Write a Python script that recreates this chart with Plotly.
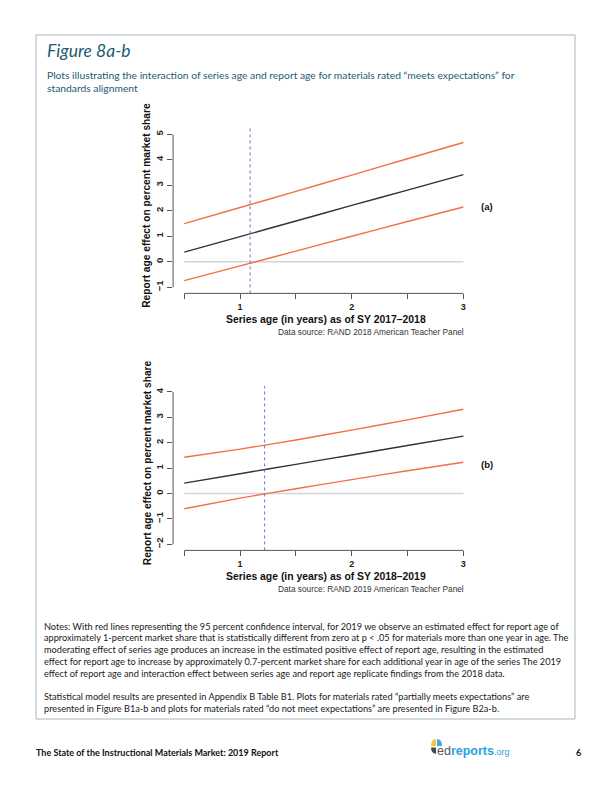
import plotly.graph_objects as go

W, H = 612, 792

# ---------------- data ----------------
series_age = [0.5, 1.0, 1.5, 2.0, 2.5, 3.0]

a_effect = [0.38, 0.99, 1.60, 2.21, 2.81, 3.42]
a_upper = [1.50, 2.13, 2.76, 3.40, 4.04, 4.68]
a_lower = [-0.74, -0.16, 0.42, 1.00, 1.58, 2.15]
a_cross = 1.09

b_effect = [0.41, 0.78, 1.15, 1.52, 1.89, 2.26]
b_upper = [1.43, 1.75, 2.11, 2.50, 2.90, 3.32]
b_lower = [-0.60, -0.18, 0.19, 0.55, 0.90, 1.23]
b_cross = 1.22

x_tickvals = [0.5, 1.0, 1.5, 2.0, 2.5, 3.0]
x_ticktext = ["", "1", "", "2", "", "3"]
a_yticks = [-1, 0, 1, 2, 3, 4, 5]
b_yticks = [-2, -1, 0, 1, 2, 3, 4]

a_xtitle = "Series age (in years) as of SY 2017–2018"
b_xtitle = "Series age (in years) as of SY 2018–2019"
ytitle = "Report age effect on percent market share"
a_source = "Data source: RAND 2018 American Teacher Panel"
b_source = "Data source: RAND 2019 American Teacher Panel"

title = "Figure 8a-b"
subtitle = ["Plots illustrating the interaction of series age and report age for materials rated “meets expectations” for",
            "standards alignment"]
notes = [
    "Notes: With red lines representing the 95 percent confidence interval, for 2019 we observe an estimated effect for report age of",
    "approximately 1-percent market share that is statistically different from zero at p < .05 for materials more than one year in age. The",
    "moderating effect of series age produces an increase in the estimated positive effect of report age, resulting in the estimated",
    "effect for report age to increase by approximately 0.7-percent market share for each additional year in age of the series The 2019",
    "effect of report age and interaction effect between series age and report age replicate findings from the 2018 data.",
    "",
    "Statistical model results are presented in Appendix B Table B1. Plots for materials rated “partially meets expectations” are",
    "presented in Figure B1a-b and plots for materials rated “do not meet expectations” are presented in Figure B2a-b.",
]
footer = "The State of the Instructional Materials Market: 2019 Report"
page_no = "6"

# ---------------- helpers ----------------
def px(x):
    return x / W

def py(y):
    return 1 - y / H

RED = "#f36f45"
BLACK = "#333333"
ZERO = "#d4d4d4"
BLUE = "#6f72cf"
AXIS = "#555555"
TEAL = "#1d5a73"
BODY_FONT = "Lato"
R_FONT = "Liberation Sans"

fig = go.Figure()

panels = [
    dict(xa="x", ya="y", eff=a_effect, up=a_upper, lo=a_lower, cross=a_cross,
         yticks=a_yticks, ydom=(128.2, 293.4), xtitle=a_xtitle, source=a_source, tag="(a)"),
    dict(xa="x2", ya="y2", eff=b_effect, up=b_upper, lo=b_lower, cross=b_cross,
         yticks=b_yticks, ydom=(385.9, 550.4), xtitle=b_xtitle, source=b_source, tag="(b)"),
]

XDOM = (173.1, 474.5)

for i, p in enumerate(panels):
    xa, ya = p["xa"], p["ya"]
    # zero reference line
    fig.add_trace(go.Scatter(x=[series_age[0], series_age[-1]], y=[0, 0], mode="lines",
                             line=dict(color=ZERO, width=1.6), xaxis=xa, yaxis=ya,
                             showlegend=False, hoverinfo="skip"))
    for ys, col in [(p["up"], RED), (p["lo"], RED), (p["eff"], BLACK)]:
        fig.add_trace(go.Scatter(x=series_age, y=ys, mode="lines",
                                 line=dict(color=col, width=1.4, shape="spline", smoothing=0.6),
                                 xaxis=xa, yaxis=ya, showlegend=False))
    xref_dom = xa + " domain"
    yref_dom = ya + " domain"
    # vertical dashed line at zero crossing of lower CI
    fig.add_shape(type="line", xref=xa, yref=yref_dom, x0=p["cross"], x1=p["cross"], y0=0, y1=1,
                  line=dict(color=BLUE, width=1, dash="dot"))
    # R-style detached axis lines
    fig.add_shape(type="line", xref=xa, yref=yref_dom, x0=x_tickvals[0], x1=x_tickvals[-1], y0=0, y1=0,
                  line=dict(color=AXIS, width=1))
    fig.add_shape(type="line", xref=xref_dom, yref=ya, x0=0, x1=0, y0=p["yticks"][0], y1=p["yticks"][-1],
                  line=dict(color=AXIS, width=1))
    ymin, ymax = p["yticks"][0], p["yticks"][-1]
    pad = (ymax - ymin) * 0.04
    xpad = (x_tickvals[-1] - x_tickvals[0]) * 0.04
    suffix = "" if i == 0 else "2"
    fig.update_layout(**{
        "xaxis" + suffix: dict(domain=[px(XDOM[0]), px(XDOM[1])],
                               range=[x_tickvals[0] - xpad, x_tickvals[-1] + xpad],
                               tickmode="array", tickvals=x_tickvals, ticktext=x_ticktext,
                               ticks="outside", ticklen=5, tickcolor=AXIS, tickwidth=1,
                               showline=False, showgrid=False, zeroline=False,
                               tickfont=dict(family=R_FONT, size=9, color="#222", weight="bold"),
                               anchor=ya),
        "yaxis" + suffix: dict(domain=[py(p["ydom"][1]), py(p["ydom"][0])],
                               range=[ymin - pad, ymax + pad],
                               tickmode="array", tickvals=p["yticks"],
                               ticks="outside", ticklen=5, tickcolor=AXIS, tickwidth=1,
                               tickangle=-90,
                               showline=False, showgrid=False, zeroline=False,
                               tickfont=dict(family=R_FONT, size=9.5, color="#222", weight="bold"),
                               anchor=xa),
    })
    ytop, ybot = p["ydom"]
    # axis titles
    fig.add_annotation(x=px((XDOM[0] + XDOM[1]) / 2 + 2), y=py(ybot + 26), xref="paper", yref="paper",
                       text=p["xtitle"], showarrow=False, xanchor="center", yanchor="middle",
                       font=dict(family=R_FONT, size=10.4, color="#111", weight="bold"))
    fig.add_annotation(x=px(147), y=py((ytop + ybot) / 2 - 5), xref="paper", yref="paper",
                       text=ytitle, showarrow=False, textangle=-90, xanchor="center", yanchor="middle",
                       font=dict(family=R_FONT, size=10.2, color="#111", weight="bold"))
    fig.add_annotation(x=px(466), y=py(ybot + 39), xref="paper", yref="paper",
                       text=p["source"], showarrow=False, xanchor="right", yanchor="middle",
                       font=dict(family=R_FONT, size=8.3, color="#333"))
    fig.add_annotation(x=px(479), y=py(ytop + (ybot - ytop) * 0.475),
                       xref="paper", yref="paper",
                       text=p["tag"], showarrow=False, xanchor="left", yanchor="middle",
                       font=dict(family=R_FONT, size=9.5, color="#111", weight="bold"))

# page frame
fig.add_shape(type="rect", xref="paper", yref="paper", x0=px(36), x1=px(575), y0=py(719), y1=py(35),
              line=dict(color="#a7b6bd", width=1), layer="below")

# title block
fig.add_annotation(x=px(45), y=py(50), xref="paper", yref="paper", text="<i>" + title + "</i>",
                   showarrow=False, xanchor="left", yanchor="middle",
                   font=dict(family=BODY_FONT, size=17.5, color=TEAL))
for k, line in enumerate(subtitle):
    fig.add_annotation(x=px(45), y=py(75 + 13 * k), xref="paper", yref="paper", text=line,
                       showarrow=False, xanchor="left", yanchor="middle",
                       font=dict(family=BODY_FONT, size=10.3, color=TEAL))

# notes
for k, line in enumerate(notes):
    if not line:
        continue
    fig.add_annotation(x=px(42), y=py(626 + 11.8 * k), xref="paper", yref="paper", text=line,
                       showarrow=False, xanchor="left", yanchor="middle",
                       font=dict(family=BODY_FONT, size=9.2, color="#1a1a1a"))

# footer
fig.add_annotation(x=px(34), y=py(752), xref="paper", yref="paper", text=footer,
                   showarrow=False, xanchor="left", yanchor="middle",
                   font=dict(family=BODY_FONT, size=9.0, color="#111", weight="bold"))
fig.add_annotation(x=px(583), y=py(752), xref="paper", yref="paper", text=page_no,
                   showarrow=False, xanchor="right", yanchor="middle",
                   font=dict(family=BODY_FONT, size=9.0, color="#111", weight="bold"))

# logo
fig.add_shape(type="path", xref="paper", yref="paper",
              path=f"M {px(436)} {py(746)} L {px(431)} {py(746)} Q {px(431)} {py(739)} {px(436)} {py(739)} Z",
              fillcolor="#f6c343", line=dict(width=0))
fig.add_shape(type="path", xref="paper", yref="paper",
              path=f"M {px(437)} {py(746)} L {px(437)} {py(739)} Q {px(442)} {py(739)} {px(442)} {py(746)} Z",
              fillcolor="#3ea9e2", line=dict(width=0))
fig.add_shape(type="path", xref="paper", yref="paper",
              path=f"M {px(431)} {py(747.5)} L {px(436)} {py(747.5)} L {px(436)} {py(754)} Q {px(431)} {py(753)} {px(431)} {py(747.5)} Z",
              fillcolor="#444a52", line=dict(width=0))
fig.add_annotation(x=px(435), y=py(751), xref="paper", yref="paper",
                   text="<span style='color:#555'>ed</span><b><span style='color:#2aa3e3'>reports</span></b>"
                        "<span style='color:#2aa3e3;font-size:9px'>.org</span>",
                   showarrow=False, xanchor="left", yanchor="middle",
                   font=dict(family="Liberation Sans", size=12.5))

fig.update_layout(width=W, height=H, autosize=False,
                  margin=dict(l=0, r=0, t=0, b=0),
                  paper_bgcolor="white", plot_bgcolor="white",
                  showlegend=False)

fig.write_html("out.html", config={"displayModeBar": False},
               post_script="document.body.style.margin='0px';document.body.style.overflow='hidden';")
